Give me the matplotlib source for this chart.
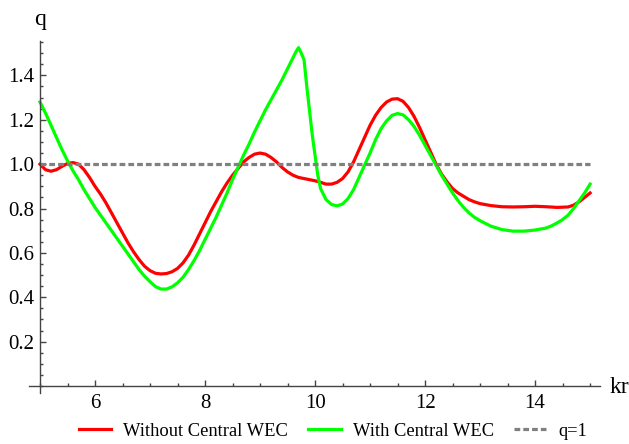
import matplotlib
matplotlib.use("Agg")
import matplotlib.pyplot as plt
from matplotlib.ticker import MultipleLocator

# q versus kr
kr_without = [5.0, 5.1, 5.2, 5.3, 5.4, 5.5, 5.6, 5.7, 5.8, 5.9,
              6.0, 6.1, 6.2, 6.3, 6.4, 6.5, 6.6, 6.7, 6.8, 6.9,
              7.0, 7.1, 7.2, 7.3, 7.4, 7.5, 7.6, 7.7, 7.8, 7.9,
              8.0, 8.1, 8.2, 8.3, 8.4, 8.5, 8.6, 8.7, 8.8, 8.9,
              9.0, 9.1, 9.2, 9.3, 9.4, 9.5, 9.6, 9.7, 9.8, 9.9,
              10.0, 10.1, 10.2, 10.3, 10.4, 10.5, 10.6, 10.7, 10.8, 10.9,
              11.0, 11.1, 11.2, 11.3, 11.4, 11.5, 11.6, 11.7, 11.8, 11.9,
              12.0, 12.1, 12.2, 12.3, 12.4, 12.5, 12.6, 12.7, 12.8, 12.9,
              13.0, 13.2, 13.4, 13.6, 13.8, 14.0, 14.2, 14.4, 14.6, 14.7,
              14.8, 14.9, 15.0]
q_without = [1.00, 0.975, 0.968, 0.975, 0.99, 1.003, 1.007, 1.0, 0.975, 0.94,
             0.90, 0.865, 0.825, 0.78, 0.735, 0.69, 0.645, 0.605, 0.57, 0.54,
             0.52, 0.508, 0.505, 0.507, 0.515, 0.53, 0.555, 0.59, 0.635, 0.685,
             0.735, 0.785, 0.83, 0.875, 0.915, 0.95, 0.98, 1.01, 1.03, 1.045,
             1.05, 1.045, 1.03, 1.01, 0.985, 0.965, 0.95, 0.94, 0.935, 0.93,
             0.925, 0.918, 0.91, 0.91, 0.918, 0.935, 0.965, 1.01, 1.065, 1.12,
             1.175, 1.22, 1.255, 1.28, 1.293, 1.295, 1.283, 1.255, 1.215, 1.165,
             1.11, 1.055, 1.0, 0.955, 0.92, 0.89, 0.87, 0.855, 0.84, 0.83,
             0.822, 0.813, 0.808, 0.807, 0.808, 0.81, 0.808, 0.805, 0.807, 0.815,
             0.83, 0.85, 0.87]

kr_with = [5.0, 5.1, 5.2, 5.3, 5.4, 5.5, 5.6, 5.7, 5.8, 5.9,
           6.0, 6.1, 6.2, 6.3, 6.4, 6.5, 6.6, 6.7, 6.8, 6.9,
           7.0, 7.1, 7.2, 7.3, 7.4, 7.5, 7.6, 7.7, 7.8, 7.9,
           8.0, 8.1, 8.2, 8.3, 8.4, 8.5, 8.6, 8.7, 8.8, 8.9,
           9.0, 9.1, 9.2, 9.3, 9.4, 9.5, 9.6, 9.65, 9.7, 9.75,
           9.8, 9.85, 9.9, 9.95, 10.0, 10.05, 10.1, 10.2, 10.3, 10.4,
           10.5, 10.6, 10.7, 10.8, 10.9, 11.0, 11.1, 11.2, 11.3, 11.4,
           11.5, 11.6, 11.7, 11.8, 11.9, 12.0, 12.1, 12.2, 12.3, 12.4,
           12.5, 12.6, 12.7, 12.8, 12.9, 13.0, 13.2, 13.4, 13.6, 13.8,
           14.0, 14.2, 14.3, 14.4, 14.5, 14.6, 14.7, 14.8, 14.9, 15.0]
q_with = [1.28, 1.23, 1.175, 1.12, 1.065, 1.015, 0.97, 0.93, 0.885, 0.845,
          0.805, 0.77, 0.735, 0.70, 0.665, 0.63, 0.595, 0.56, 0.525, 0.495,
          0.47, 0.448, 0.437, 0.437, 0.447, 0.465, 0.49, 0.525, 0.565, 0.61,
          0.66, 0.71, 0.76, 0.815, 0.87, 0.93, 0.985, 1.04, 1.09, 1.145,
          1.195, 1.245, 1.29, 1.335, 1.38, 1.43, 1.48, 1.505, 1.525, 1.50,
          1.47, 1.35, 1.24, 1.13, 1.04, 0.95, 0.89, 0.84, 0.818, 0.812,
          0.82, 0.845, 0.885, 0.94, 0.995, 1.05, 1.11, 1.16, 1.195, 1.22,
          1.228, 1.222, 1.2, 1.17, 1.13, 1.085, 1.04, 0.995, 0.95, 0.91,
          0.87, 0.835, 0.805, 0.78, 0.76, 0.745, 0.72, 0.705, 0.698, 0.698,
          0.703, 0.712, 0.722, 0.735, 0.75, 0.77, 0.80, 0.835, 0.87, 0.91]

kr_ref = [5.0, 15.0]
q_ref = [1.0, 1.0]

plt.rcParams['font.family'] = 'serif'
plt.rcParams['font.serif'] = ['Liberation Serif', 'Times New Roman', 'DejaVu Serif']
plt.rcParams['font.size'] = 15

fig = plt.figure(figsize=(6.29, 4.44), dpi=100)
ax = fig.add_axes([29 / 629, 51 / 444, 571 / 629, 352 / 444])

ax.plot(kr_without, q_without, color='#ff0000', lw=2.3, label='Without Central WEC')
ax.plot(kr_with, q_with, color='#00ff00', lw=2.3, label='With Central WEC')
ax.plot(kr_ref, q_ref, color='#808080', lw=2.3, linestyle=(0, (1.8, 0.95)), label='q=1')

ax.set_xlim(4.8, 15.18)
ax.set_ylim(-0.0315, 1.555)

# Mathematica style axes crossing at (5, 0)
for side in ['top', 'right']:
    ax.spines[side].set_visible(False)
ax.spines['left'].set_position(('data', 5))
ax.spines['bottom'].set_position(('data', 0))
for side in ['left', 'bottom']:
    ax.spines[side].set_color('#444444')
    ax.spines[side].set_linewidth(1.0)

ax.set_xticks([6, 8, 10, 12, 14])
ax.set_yticks([0.2, 0.4, 0.6, 0.8, 1.0, 1.2, 1.4])
ax.set_yticklabels(['0.2', '0.4', '0.6', '0.8', '1.0', '1.2', '1.4'])
ax.xaxis.set_minor_locator(MultipleLocator(0.5))
ax.yaxis.set_minor_locator(MultipleLocator(0.05))
ax.tick_params(which='both', direction='in', color='#444444', width=1.0)
ax.tick_params(which='major', length=4.5)
ax.tick_params(which='minor', length=2.5)
ax.tick_params(axis='x', pad=6)
ax.tick_params(axis='y', pad=4)

fig.text(619 / 629, 1 - 387 / 444, 'kr', ha='center', va='center', fontsize=17)
fig.text(40 / 629, 1 - 19 / 444, 'q', ha='center', va='center', fontsize=17)

fig.legend(loc='center', bbox_to_anchor=(333 / 629, 1 - 431 / 444), ncol=3,
           frameon=False, handlelength=1.75, handletextpad=0.65,
           columnspacing=1.1, fontsize=13.3)

fig.savefig('out.png', dpi=100)
